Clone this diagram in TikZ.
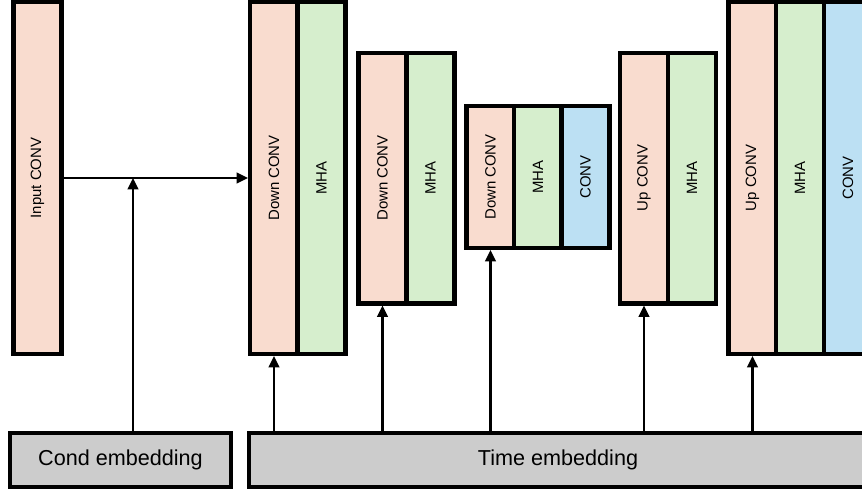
\documentclass[tikz,border=0pt]{standalone}
\usepackage{fontspec}
\setmainfont{Liberation Sans}
\usepackage{graphicx}
\usetikzlibrary{arrows.meta}

\definecolor{convpink}{RGB}{249,220,207}
\definecolor{mhagreen}{RGB}{214,238,205}
\definecolor{convblue}{RGB}{188,224,243}
\definecolor{embgray}{RGB}{204,204,204}

\begin{document}
\begin{tikzpicture}[x=0.02cm, y=-0.02cm,
    col/.style={draw, line width=2.3pt, inner sep=0pt, minimum width=0.96cm,
      font=\fontsize{8.5}{10}\selectfont},
    downcol/.style={col, fill=convpink},
    mhacol/.style={col, fill=mhagreen},
    convcol/.style={col, fill=convblue},
    embed/.style={draw, line width=2.3pt, fill=embgray, minimum height=1.08cm,
      font=\fontsize{12.3}{14}\selectfont},
    arr/.style={-{Triangle[length=6.5pt,width=6pt]}, line width=1.3pt}]
  \useasboundingbox (0,0) rectangle (862,494);
  \clip (0,0) rectangle (862,494);

  % input
  \node[downcol, minimum height=7.04cm] (inp) at (37.5,178) {\rotatebox{90}{Input CONV}};

  % down blocks
  \node[downcol, minimum height=7.04cm] (d1) at (274,178) {\rotatebox{90}{Down CONV}};
  \node[mhacol, minimum height=7.04cm] (m1) at (321.5,178) {\rotatebox{90}{MHA}};

  \node[downcol, minimum height=5.02cm] (d2) at (382.5,178) {\rotatebox{90}{Down CONV}};
  \node[mhacol, minimum height=5.02cm] (m2) at (430.5,178) {\rotatebox{90}{MHA}};

  \node[downcol, minimum height=2.84cm] (d3) at (490.5,177) {\rotatebox{90}{Down CONV}};
  \node[mhacol, minimum height=2.84cm] (m3) at (538,177) {\rotatebox{90}{MHA}};
  \node[convcol, minimum height=2.84cm] (c3) at (585.5,177) {\rotatebox{90}{CONV}};

  % up blocks
  \node[downcol, minimum height=5.02cm] (u4) at (644,178) {\rotatebox{90}{Up CONV}};
  \node[mhacol, minimum height=5.02cm] (m4) at (692,178) {\rotatebox{90}{MHA}};

  \node[downcol, minimum height=7.04cm] (u5) at (752.5,178) {\rotatebox{90}{Up CONV}};
  \node[mhacol, minimum height=7.04cm] (m5) at (800,178) {\rotatebox{90}{MHA}};
  \node[convcol, minimum height=7.04cm] (c5) at (848,178) {\rotatebox{90}{CONV}};

  % embeddings
  \node[embed, minimum width=4.42cm] (cond) at (120.5,460) {Cond embedding};
  \node[embed, minimum width=12.36cm] (time) at (558,460) {Time embedding};

  % connectors
  \coordinate (cjoin) at (133,178);
  \draw[arr] (inp) -- (d1);
  \draw[arr] (cond.north -| cjoin) -- (cjoin);
  \foreach \blk in {d1,d2,d3,u4,u5}
    \draw[arr] (time.north -| \blk.south) -- (\blk.south);
\end{tikzpicture}
\end{document}
